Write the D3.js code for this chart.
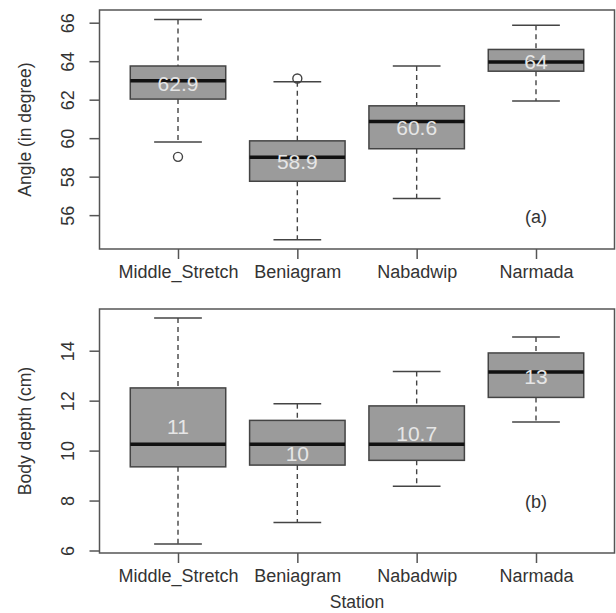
<!DOCTYPE html>
<html>
<head>
<meta charset="utf-8">
<script src="https://cdn.jsdelivr.net/npm/d3@7"></script>
<style>
  body { margin: 0; background: #fff; }
  text { font-family: "Liberation Sans", Arial, sans-serif; fill: #333; }
</style>
</head>
<body>
<div id="chart"></div>
<script>
var width = 616;
var height = 613;

// stations along x
var stations = ["Middle_Stretch", "Beniagram", "Nabadwip", "Narmada"];

// angle (degree): [lower whisker, q1, median, q3, upper whisker]
var angleStats = [
  [59.8, 62.03, 62.98, 63.75, 66.17],
  [54.72, 57.76, 59.01, 59.86, 62.93],
  [56.86, 59.45, 60.86, 61.68, 63.75],
  [61.93, 63.48, 63.96, 64.61, 65.87]
];
var angleMeans = [62.84, 58.8, 60.55, 63.97];
var angleLabels = ["62.9", "58.9", "60.6", "64"];
var angleOutliers = [[0, 59.03], [1, 63.1]];
var angleTicks = [56, 58, 60, 62, 64, 66];

// body depth (cm)
var depthStats = [
  [6.26, 9.35, 10.25, 12.51, 15.31],
  [7.12, 9.42, 10.25, 11.21, 11.88],
  [8.57, 9.61, 10.25, 11.79, 13.17],
  [11.15, 12.13, 13.15, 13.91, 14.55]
];
var depthMeans = [10.95, 9.9, 10.68, 12.95];
var depthLabels = ["11", "10", "10.7", "13"];
var depthOutliers = [];
var depthTicks = [6, 8, 10, 12, 14];

var svg = d3.select("#chart")
  .append("svg")
    .attr("width", width)
    .attr("height", height);

var x = d3.scalePoint()
  .domain(stations)
  .range([178, 536]);

var step = x.step();
var boxW = step * 0.8;
var capW = step * 0.4;

function drawPanel(opts) {
  var y = d3.scaleLinear()
    .domain(opts.domain)
    .range([opts.bottom, opts.top]);

  var g = svg.append("g");

  // frame
  g.append("rect")
    .attr("x", 99.5)
    .attr("y", opts.top)
    .attr("width", 515)
    .attr("height", opts.bottom - opts.top)
    .attr("fill", "none")
    .attr("stroke", "#555")
    .attr("stroke-width", 1.5);

  var boxes = g.selectAll(".box")
    .data(opts.stats)
    .enter()
    .append("g")
      .attr("class", "box")
      .attr("transform", function(d, i) { return "translate(" + x(stations[i]) + ",0)"; });

  // whiskers
  boxes.append("line")
    .attr("y1", function(d) { return y(d[4]); })
    .attr("y2", function(d) { return y(d[3]); })
    .attr("stroke", "#444").attr("stroke-width", 1.4).attr("stroke-dasharray", "5,4");
  boxes.append("line")
    .attr("y1", function(d) { return y(d[1]); })
    .attr("y2", function(d) { return y(d[0]); })
    .attr("stroke", "#444").attr("stroke-width", 1.4).attr("stroke-dasharray", "5,4");
  boxes.append("line")
    .attr("x1", -capW / 2).attr("x2", capW / 2)
    .attr("y1", function(d) { return y(d[4]); })
    .attr("y2", function(d) { return y(d[4]); })
    .attr("stroke", "#444").attr("stroke-width", 1.5);
  boxes.append("line")
    .attr("x1", -capW / 2).attr("x2", capW / 2)
    .attr("y1", function(d) { return y(d[0]); })
    .attr("y2", function(d) { return y(d[0]); })
    .attr("stroke", "#444").attr("stroke-width", 1.5);

  // box
  boxes.append("rect")
    .attr("x", -boxW / 2)
    .attr("width", boxW)
    .attr("y", function(d) { return y(d[3]); })
    .attr("height", function(d) { return y(d[1]) - y(d[3]); })
    .attr("fill", "#9b9b9b")
    .attr("stroke", "#444")
    .attr("stroke-width", 1.5);

  // median
  boxes.append("line")
    .attr("x1", -boxW / 2).attr("x2", boxW / 2)
    .attr("y1", function(d) { return y(d[2]); })
    .attr("y2", function(d) { return y(d[2]); })
    .attr("stroke", "#111").attr("stroke-width", 3.5);

  // mean labels
  boxes.append("text")
    .attr("y", function(d, i) { return y(opts.means[i]); })
    .attr("dy", "0.36em")
    .attr("text-anchor", "middle")
    .style("font-size", "21px")
    .style("fill", "#e6e6e6")
    .text(function(d, i) { return opts.labels[i]; });

  // outliers
  g.selectAll(".out")
    .data(opts.outliers)
    .enter()
    .append("circle")
      .attr("cx", function(d) { return x(stations[d[0]]); })
      .attr("cy", function(d) { return y(d[1]); })
      .attr("r", 4.5)
      .attr("fill", "none")
      .attr("stroke", "#444")
      .attr("stroke-width", 1.4);

  // y axis
  var yAxis = g.append("g")
    .attr("transform", "translate(99.5,0)")
    .call(d3.axisLeft(y).tickValues(opts.ticks).tickSize(10).tickFormat(d3.format("d")));
  yAxis.select(".domain").remove();
  yAxis.selectAll("line").attr("stroke", "#555").attr("stroke-width", 1.5);
  yAxis.selectAll("text")
    .attr("x", null).attr("dy", null)
    .attr("transform", "translate(-26,0) rotate(-90)")
    .attr("text-anchor", "middle")
    .style("font-size", "18px")
    .style("fill", "#333");

  // x axis
  var xAxis = g.append("g")
    .attr("transform", "translate(0," + opts.bottom + ")")
    .call(d3.axisBottom(x).tickSize(10).tickPadding(18));
  xAxis.select(".domain").remove();
  xAxis.selectAll("line").attr("stroke", "#555").attr("stroke-width", 1.5);
  xAxis.selectAll("text")
    .attr("dy", null)
    .attr("y", 29)
    .style("font-size", "18px")
    .style("fill", "#333");

  // y title
  g.append("text")
    .attr("transform", "translate(31," + ((opts.top + opts.bottom) / 2) + ") rotate(-90)")
    .attr("text-anchor", "middle")
    .style("font-size", "17.5px")
    .text(opts.title);

  // panel tag
  g.append("text")
    .attr("x", x("Narmada"))
    .attr("y", y(opts.tagY))
    .attr("dy", "0.36em")
    .attr("text-anchor", "middle")
    .style("font-size", "18px")
    .text(opts.tag);
}

drawPanel({
  stats: angleStats, means: angleMeans, labels: angleLabels, outliers: angleOutliers,
  ticks: angleTicks, domain: [54.24, 66.66], top: 10, bottom: 249,
  title: "Angle (in degree)", tag: "(a)", tagY: 55.95
});

drawPanel({
  stats: depthStats, means: depthMeans, labels: depthLabels, outliers: depthOutliers,
  ticks: depthTicks, domain: [5.9, 15.67], top: 309, bottom: 553,
  title: "Body depth (cm)", tag: "(b)", tagY: 7.96
});

svg.append("text")
  .attr("x", 357)
  .attr("y", 608)
  .attr("text-anchor", "middle")
  .style("font-size", "17.5px")
  .text("Station");
</script>
</body>
</html>
